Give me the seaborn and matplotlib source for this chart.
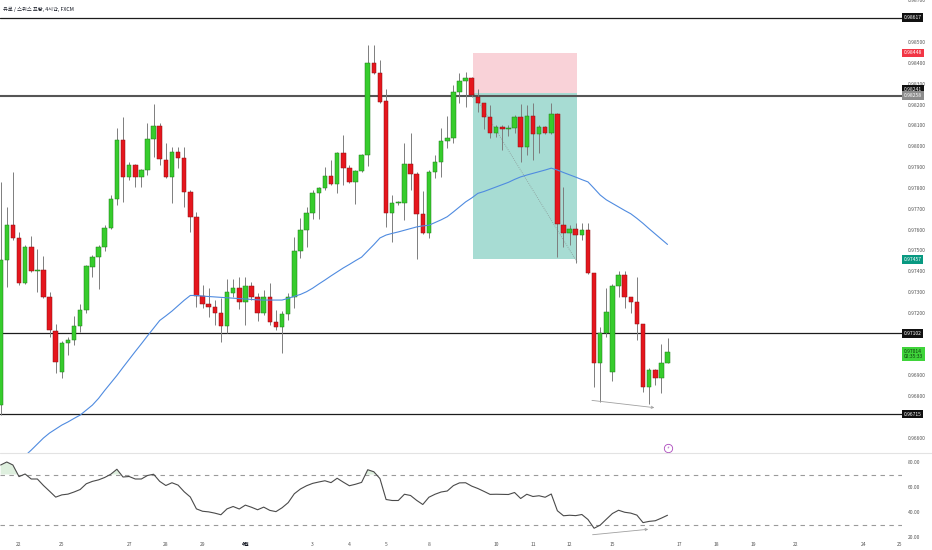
import numpy as np
import pandas as pd
import matplotlib
matplotlib.use("Agg")
import matplotlib.pyplot as plt
from matplotlib.patches import Rectangle
from matplotlib.lines import Line2D
import seaborn as sns

# EUR/CHF 4H candles
opens = [
    0.96758, 0.97454, 0.97622, 0.97560, 0.97344, 0.97517, 0.97402, 0.97406, 0.97277, 0.97114,
    0.96917, 0.97056, 0.97070, 0.97138, 0.97214, 0.97421, 0.97469, 0.97517, 0.97608, 0.97747,
    0.98030, 0.97853, 0.97910, 0.97853, 0.97886, 0.98035, 0.98098, 0.97934, 0.97853, 0.97973,
    0.97944, 0.97781, 0.97661, 0.97282, 0.97243, 0.97229, 0.97200, 0.97138, 0.97296, 0.97320,
    0.97253, 0.97330, 0.97277, 0.97200, 0.97277, 0.97157, 0.97133, 0.97195, 0.97277, 0.97498,
    0.97598, 0.97680, 0.97776, 0.97800, 0.97858, 0.97819, 0.97968, 0.97896, 0.97829, 0.97882,
    0.97958, 0.98400, 0.98352, 0.98218, 0.97680, 0.97728, 0.97728, 0.97915, 0.97867, 0.97675,
    0.97584, 0.97877, 0.97925, 0.98026, 0.98040, 0.98261, 0.98314, 0.98328, 0.98237, 0.98208,
    0.98141, 0.98064, 0.98093, 0.98083, 0.98088, 0.98141, 0.97997, 0.98146, 0.98059, 0.98093,
    0.98064, 0.98155, 0.97622, 0.97584, 0.97603, 0.97574, 0.97598, 0.97392, 0.96960, 0.97104,
    0.96917, 0.97330, 0.97382, 0.97277, 0.97253, 0.97147, 0.96845, 0.96926, 0.96888, 0.96960,
]
closes = [
    0.97454, 0.97622, 0.97560, 0.97344, 0.97517, 0.97402, 0.97406, 0.97277, 0.97118, 0.96965,
    0.97056, 0.97070, 0.97138, 0.97214, 0.97426, 0.97469, 0.97517, 0.97608, 0.97747, 0.98030,
    0.97853, 0.97910, 0.97853, 0.97886, 0.98035, 0.98098, 0.97939, 0.97853, 0.97973, 0.97944,
    0.97781, 0.97661, 0.97282, 0.97243, 0.97229, 0.97200, 0.97138, 0.97301, 0.97320, 0.97253,
    0.97330, 0.97277, 0.97200, 0.97277, 0.97157, 0.97133, 0.97195, 0.97277, 0.97498, 0.97598,
    0.97680, 0.97776, 0.97800, 0.97858, 0.97819, 0.97968, 0.97896, 0.97829, 0.97882, 0.97958,
    0.98400, 0.98352, 0.98213, 0.97680, 0.97728, 0.97733, 0.97915, 0.97867, 0.97675, 0.97584,
    0.97877, 0.97925, 0.98026, 0.98040, 0.98261, 0.98314, 0.98328, 0.98246, 0.98208, 0.98141,
    0.98064, 0.98093, 0.98083, 0.98088, 0.98141, 0.97997, 0.98146, 0.98059, 0.98093, 0.98064,
    0.98155, 0.97627, 0.97584, 0.97603, 0.97574, 0.97598, 0.97392, 0.96960, 0.97104, 0.97205,
    0.97330, 0.97382, 0.97277, 0.97253, 0.97147, 0.96845, 0.96926, 0.96888, 0.96960, 0.97014,
]
highs = [
    0.97829, 0.97709, 0.97877, 0.97589, 0.97526, 0.97570, 0.97507, 0.97474, 0.97301, 0.97147,
    0.97066, 0.97085, 0.97186, 0.97243, 0.97430, 0.97478, 0.97526, 0.97622, 0.97766, 0.98088,
    0.98141, 0.97925, 0.97915, 0.97891, 0.98112, 0.98203, 0.98112, 0.98016, 0.97997, 0.97997,
    0.97997, 0.97790, 0.97685, 0.97334, 0.97320, 0.97262, 0.97272, 0.97363, 0.97363, 0.97373,
    0.97373, 0.97349, 0.97296, 0.97310, 0.97344, 0.97214, 0.97210, 0.97296, 0.97565, 0.97656,
    0.97709, 0.97790, 0.97805, 0.97901, 0.97934, 0.97973, 0.98054, 0.97910, 0.97886, 0.97963,
    0.98486, 0.98486, 0.98414, 0.98275, 0.97766, 0.97738, 0.98016, 0.98064, 0.97877, 0.97786,
    0.97886, 0.97958, 0.98088, 0.98146, 0.98294, 0.98352, 0.98357, 0.98333, 0.98275, 0.98208,
    0.98198, 0.98102, 0.98102, 0.98102, 0.98150, 0.98203, 0.98198, 0.98208, 0.98102, 0.98098,
    0.98208, 0.98160, 0.97805, 0.97622, 0.97632, 0.97632, 0.97632, 0.97392, 0.97133, 0.97320,
    0.97339, 0.97402, 0.97402, 0.97277, 0.97373, 0.97147, 0.96936, 0.96931, 0.97051, 0.97080,
]
lows = [
    0.96710, 0.97325, 0.97550, 0.97334, 0.97339, 0.97397, 0.97301, 0.97272, 0.97085, 0.96912,
    0.96888, 0.96998, 0.97046, 0.97109, 0.97200, 0.97373, 0.97315, 0.97498, 0.97603, 0.97718,
    0.97733, 0.97838, 0.97805, 0.97805, 0.97862, 0.97949, 0.97910, 0.97848, 0.97728, 0.97896,
    0.97709, 0.97589, 0.97229, 0.97224, 0.97181, 0.97142, 0.97061, 0.97104, 0.97277, 0.97219,
    0.97142, 0.97262, 0.97162, 0.97190, 0.97142, 0.97118, 0.97008, 0.97166, 0.97224, 0.97464,
    0.97517, 0.97651, 0.97651, 0.97790, 0.97814, 0.97776, 0.97814, 0.97824, 0.97723, 0.97877,
    0.97906, 0.98347, 0.98208, 0.97613, 0.97541, 0.97718, 0.97646, 0.97790, 0.97459, 0.97579,
    0.97560, 0.97848, 0.97853, 0.97992, 0.98016, 0.98208, 0.98189, 0.98237, 0.98165, 0.98083,
    0.98040, 0.98045, 0.97982, 0.98050, 0.98064, 0.97925, 0.97958, 0.97934, 0.97968, 0.98059,
    0.98059, 0.97469, 0.97517, 0.97526, 0.97440, 0.97550, 0.97387, 0.96845, 0.96773, 0.97085,
    0.96874, 0.97277, 0.97224, 0.97200, 0.97070, 0.96821, 0.96763, 0.96854, 0.96816, 0.96960,
]

# moving average (blue line), NaN where it is off the chart
ma_line = [np.nan] * 4 + [
    0.96515, 0.96542, 0.96571, 0.96600, 0.96624, 0.96643, 0.96662, 0.96677, 0.96694, 0.96710,
    0.96734, 0.96758, 0.96790, 0.96828, 0.96864, 0.96900, 0.96939, 0.96977, 0.97015, 0.97052,
    0.97090, 0.97127, 0.97164, 0.97186, 0.97209, 0.97235, 0.97261, 0.97284, 0.97284, 0.97281,
    0.97279, 0.97277, 0.97275, 0.97273, 0.97271, 0.97269, 0.97267, 0.97265, 0.97263, 0.97262,
    0.97262, 0.97262, 0.97262, 0.97270, 0.97280, 0.97289, 0.97302, 0.97319, 0.97339, 0.97358,
    0.97378, 0.97397, 0.97416, 0.97433, 0.97451, 0.97468, 0.97498, 0.97528, 0.97560, 0.97574,
    0.97582, 0.97589, 0.97597, 0.97605, 0.97613, 0.97618, 0.97621, 0.97634, 0.97647, 0.97662,
    0.97685, 0.97709, 0.97733, 0.97752, 0.97774, 0.97783, 0.97794, 0.97805, 0.97816, 0.97827,
    0.97841, 0.97853, 0.97862, 0.97870, 0.97878, 0.97886, 0.97895, 0.97886, 0.97874, 0.97863,
    0.97852, 0.97840, 0.97829, 0.97798, 0.97766, 0.97743, 0.97726, 0.97709, 0.97692, 0.97676,
    0.97654, 0.97630, 0.97604, 0.97579, 0.97554, 0.97529,
]

rsi = [
    77.6, 80.0, 77.6, 68.3, 70.4, 66.4, 66.4, 61.2, 56.6, 51.9,
    53.7, 54.3, 56.0, 58.0, 62.6, 64.5, 65.7, 67.6, 70.2, 74.2,
    68.0, 68.4, 66.4, 66.4, 69.2, 70.2, 64.5, 61.2, 63.4, 61.5,
    56.2, 52.0, 42.5, 40.6, 40.1, 39.1, 37.8, 42.5, 44.4, 42.4,
    45.5, 43.8, 41.8, 43.9, 41.3, 40.3, 43.4, 47.5, 54.6, 58.4,
    61.0, 62.9, 64.0, 65.0, 63.5, 67.0, 63.9, 61.0, 62.2, 63.7,
    73.8, 72.2, 66.7, 50.0, 49.2, 49.2, 54.2, 53.2, 49.3, 46.0,
    51.8, 54.2, 56.0, 56.8, 61.1, 63.3, 63.4, 60.7, 58.8, 56.5,
    54.1, 54.2, 54.1, 54.0, 55.6, 50.8, 54.2, 52.4, 53.0, 51.8,
    54.4, 41.0, 37.0, 37.4, 37.1, 38.0, 34.0, 27.0, 29.5, 34.2,
    38.8, 41.4, 39.8, 39.1, 37.5, 31.5, 32.5, 33.0, 35.1, 37.4,
]

# horizontal levels and short position tool
levels = [0.98617, 0.98241, 0.97102, 0.96715]
entry, stop, target = 0.98258, 0.98448, 0.97457
pos_start, pos_end = 77.2, 94.2
last_price, countdown = 0.97014, "02:35:33"

# date labels (candle index -> label)
date_pos = [3, 10, 21, 27, 33, 40, 51, 57, 63, 70, 81, 87, 93, 100, 111, 117, 123, 130, 141, 147]
date_lbl = ["22", "25", "27", "28", "29", "4월", "3", "4", "5", "8",
            "10", "11", "12", "15", "17", "18", "19", "22", "24", "25"]

df = pd.DataFrame({"open": opens, "high": highs, "low": lows, "close": closes,
                   "ma": ma_line, "rsi": rsi})
df["i"] = np.arange(len(df))

sns.set_style("white")
plt.rcParams["font.family"] = ["Noto Sans CJK KR", "DejaVu Sans"]

W, H = 932, 550
fig = plt.figure(figsize=(W / 100, H / 100), dpi=100)
ax = fig.add_axes([0, 97 / H, 902 / W, 453 / H])
rax = fig.add_axes([0, 10 / H, 902 / W, 87 / H])

xlim = (-0.106, 147.33)
ax.set_xlim(*xlim)
ax.set_ylim(0.96528, 0.98702)
rax.set_xlim(*xlim)
rax.set_ylim(17.6, 87.2)

# position box
ax.add_patch(Rectangle((pos_start, entry), pos_end - pos_start, stop - entry,
                       fc="#f9d2d8", ec="none", zorder=1))
ax.add_patch(Rectangle((pos_start, target), pos_end - pos_start, entry - target,
                       fc="#a7dcd3", ec="none", zorder=1))
ax.plot([pos_start, pos_end], [entry, 0.97445], color="#8a9a98", lw=0.6,
        ls=(0, (1, 1.5)), zorder=2)

# levels
for lv in levels:
    if lv == 0.98241:
        ax.axhline(lv, color="#555555", lw=1.5, zorder=2)
    else:
        ax.axhline(lv, color="#1c1c1c", lw=0.9, zorder=2)

# candles
up = df["close"] >= df["open"]
ax.vlines(df["i"], df["low"], df["high"], color="#7d7d7d", lw=0.7, zorder=3)
body = (df["close"] - df["open"]).abs().clip(lower=0.000025)
ax.bar(df["i"], body, bottom=df[["open", "close"]].min(axis=1), width=0.74,
       color=np.where(up, "#36cc2c", "#e5161d"),
       edgecolor=np.where(up, "#1f7d1a", "#8c1014"), linewidth=0.35, zorder=4)

sns.lineplot(data=df, x="i", y="ma", ax=ax, color="#4f8be0", lw=0.8, zorder=5)

# divergence arrows
ax.annotate("", xy=(107.3, 0.96744), xytext=(96.2, 0.96782),
            arrowprops=dict(arrowstyle="->", color="#a0a0a0", lw=0.6, mutation_scale=4))
ax.plot(109.1, 0.96552, marker="o", ms=6, mfc="white", mec="#ab47bc", mew=0.6, zorder=6)
ax.text(109.1, 0.96552, "⚡", fontsize=3, color="#ab47bc", ha="center", va="center",
        family=["DejaVu Sans"], zorder=7)

# price axis; labels hidden behind the level tags are left blank
hidden = {"0.98600", "0.97100", "0.97000", "0.96700"}
ax.yaxis.tick_right()
yt = np.round(np.arange(0.966, 0.98701, 0.001), 3)
ax.set_yticks(yt)
ax.set_yticklabels(["" if f"{v:.5f}" in hidden else f"{v:.5f}" for v in yt])
ax.tick_params(axis="y", length=0, pad=4, labelsize=3.6, labelcolor="#555555")
ax.set_xticks([])
ax.set_xlabel("")
ax.set_ylabel("")
for s in ax.spines.values():
    s.set_visible(False)


def tag(axis, value, text, fc, tc="white", dy=0):
    axis.annotate(text, xy=(1, value), xycoords=axis.get_yaxis_transform(),
                  xytext=(1.2, dy), textcoords="offset points", ha="left", va="center",
                  fontsize=3.6, color=tc, linespacing=1.0, zorder=10, annotation_clip=False,
                  bbox=dict(boxstyle="square,pad=0.35", fc=fc, ec="none"))


tag(ax, 0.98617, "0.98617", "#111111")
tag(ax, stop, "0.98448", "#f23645")
tag(ax, 0.98241, "0.98241", "#111111", dy=5)
tag(ax, entry, "0.98258", "#8c8c8c", dy=-2.3)
tag(ax, target, "0.97457", "#089981")
tag(ax, 0.97102, "0.97102", "#111111")
tag(ax, last_price, f"{last_price:.5f}\n{countdown}", "#3fd43a", tc="#0d3b0d", dy=-1.5)
tag(ax, 0.96715, "0.96715", "#111111")

# RSI panel
rax.axhline(70, color="#9a9a9a", lw=0.8, dashes=(4, 4))
rax.axhline(30, color="#9a9a9a", lw=0.8, dashes=(4, 4))
rv = df["rsi"].to_numpy()
rax.fill_between(df["i"], 70, rv, where=rv > 70, interpolate=True,
                 color="#d6ecd6", alpha=0.8, lw=0)
sns.lineplot(data=df, x="i", y="rsi", ax=rax, color="#4a4a4a", lw=0.8)
rax.annotate("", xy=(106.3, 26.4), xytext=(96.3, 21.6),
             arrowprops=dict(arrowstyle="->", color="#a0a0a0", lw=0.6, mutation_scale=4))
rax.yaxis.tick_right()
rax.set_yticks([20, 40, 60, 80])
rax.set_yticklabels(["20.00", "40.00", "60.00", "80.00"])
rax.tick_params(axis="y", length=0, pad=4, labelsize=3.6, labelcolor="#555555")
rax.set_xticks(date_pos)
rax.set_xticklabels(date_lbl)
rax.tick_params(axis="x", length=0, pad=1.5, labelsize=3.6, labelcolor="#555555")
for t in rax.get_xticklabels():
    if t.get_text() == "4월":
        t.set_color("#131722")
        t.set_fontweight("bold")
rax.set_xlabel("")
rax.set_ylabel("")
for s in rax.spines.values():
    s.set_visible(False)

# pane separator and title
fig.add_artist(Line2D([0, 1], [97 / H, 97 / H], color="#e3e3e3", lw=0.8))
fig.text(3 / W, 1 - 9 / H, "유로 / 스위스 프랑, 4시간, FXCM", fontsize=3.8,
         color="#131722", va="center", ha="left")

fig.savefig("out.png", dpi=100)
